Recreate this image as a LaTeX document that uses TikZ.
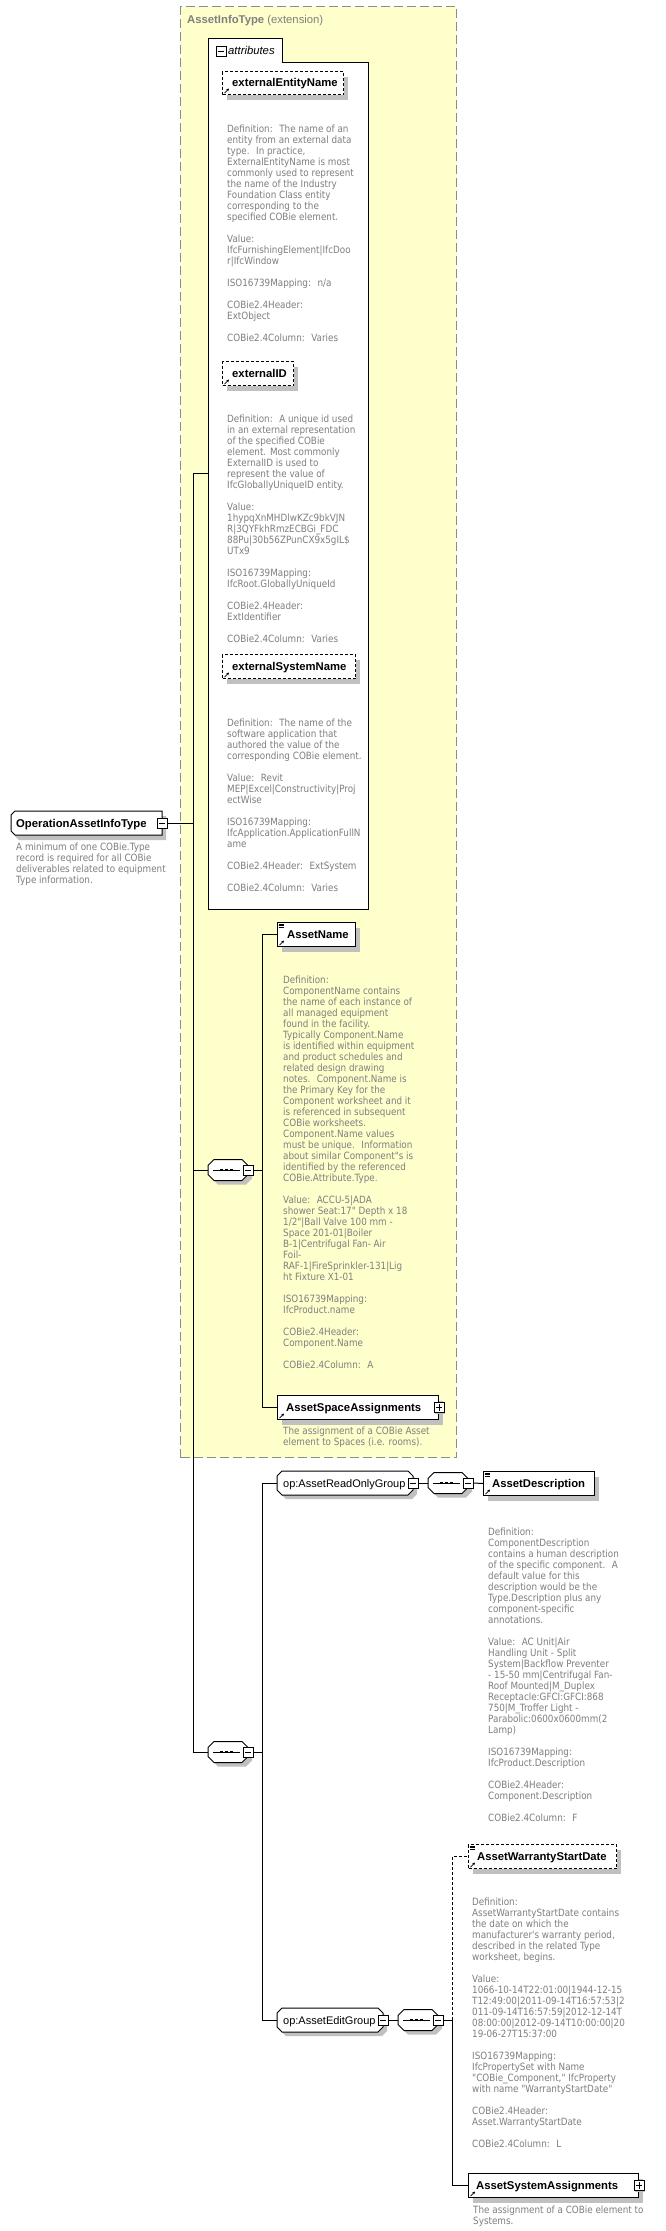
\documentclass[tikz,border=0pt]{standalone}
\usepackage{fontspec}
\setmainfont{Liberation Sans}
\newfontfamily\mydescfam[FakeStretch=0.88,Ligatures=TeXOff]{DejaVu Sans}
\usetikzlibrary{shadows,arrows.meta}
\definecolor{yellowbg}{HTML}{FFFFCC}
\definecolor{dashgray}{HTML}{8C8C8C}
\definecolor{descgray}{HTML}{7F7F7F}
\definecolor{shadowgray}{HTML}{C0C0C0}
\definecolor{titlegray}{HTML}{808080}
\newcommand\elnamefont{\fontsize{11.3}{13}\selectfont\bfseries}
\newcommand\grpnamefont{\fontsize{11}{13}\selectfont}
\newcommand\xdescfont{\mydescfam\fontsize{10}{11}\selectfont}
% octagon through the anchors of a ghost node: #1 node, #2 chamfer, #3 dx, #4 dy
\newcommand\octo[4]{([xshift={(#2)+(#3)},yshift={#4}]#1.north west) -- ([xshift={-(#2)+(#3)},yshift={#4}]#1.north east) -- ([xshift={#3},yshift={-(#2)+(#4)}]#1.north east) -- ([xshift={#3},yshift={(#2)+(#4)}]#1.south east) -- ([xshift={-(#2)+(#3)},yshift={#4}]#1.south east) -- ([xshift={(#2)+(#3)},yshift={#4}]#1.south west) -- ([xshift={#3},yshift={(#2)+(#4)}]#1.south west) -- ([xshift={#3},yshift={-(#2)+(#4)}]#1.north west) -- cycle}
% left corners chamfered only
\newcommand\chamL[4]{([xshift={(#2)+(#3)},yshift={#4}]#1.north west) -- ([xshift={#3},yshift={#4}]#1.north east) -- ([xshift={#3},yshift={#4}]#1.south east) -- ([xshift={(#2)+(#3)},yshift={#4}]#1.south west) -- ([xshift={#3},yshift={(#2)+(#4)}]#1.south west) -- ([xshift={#3},yshift={-(#2)+(#4)}]#1.north west) -- cycle}
\newcommand\minusmark[1]{\draw[line width=0.9pt] ([xshift=2.2]#1.west) -- ([xshift=-2.2]#1.east);}
\newcommand\plusmark[1]{\minusmark{#1}\draw[line width=0.9pt] ([yshift=-2.2]#1.north) -- ([yshift=2.2]#1.south);}
\newcommand\arrowicon[1]{\draw[line width=0.7pt,-{Stealth[length=2.8pt,width=2.8pt]}] ([shift={(2.5,2)}]#1.south west) -- ([shift={(7,6.5)}]#1.south west);}
\newcommand\lineicon[1]{\foreach \k in {1.8,3.6,5.4} {\draw[line width=0.6pt] ([shift={(1.5,-\k)}]#1.north west) -- ++(5.5,0);}}
\newcommand\seqmark[1]{\draw[line width=1pt] ([xshift=5]#1.west) -- ([xshift=-8]#1.east);
  \foreach \dx in {-6.5,-1.5,3.5} {\fill ([shift={(\dx-1.4,-1.4)}]#1.center) rectangle ++(2.8,2.8);}}
\tikzset{
  elbox/.style={draw=black, fill=white, line width=1pt, inner sep=0pt, anchor=north west,
    drop shadow={shadow xshift=4pt, shadow yshift=-5pt, fill=shadowgray, opacity=1}},
  optelbox/.style={elbox, dash pattern=on 3pt off 2pt},
  elname/.style={font=\elnamefont, anchor=base west, inner sep=0pt},
  grpname/.style={font=\grpnamefont, anchor=base west, inner sep=0pt},
  desctext/.style={font=\xdescfont, text=descgray, align=left, anchor=north west, inner sep=0pt},
  pmbox/.style={draw=black, fill=white, line width=0.9pt, minimum size=10pt, inner sep=0pt,
    drop shadow={shadow xshift=1.3pt, shadow yshift=-1.3pt, fill=shadowgray, opacity=1}},
  ghost/.style={inner sep=0pt, outer sep=0pt, anchor=north west},
  conn/.style={draw=black, line width=1pt},
  optconn/.style={conn, dash pattern=on 3pt off 2pt},
}
\begin{document}
\begin{tikzpicture}[x=1pt,y=1pt]
\path[use as bounding box, fill=white] (0,0) rectangle (666,-2231);

% ---------- extension box ----------
\node[draw=dashgray, line width=1pt, dash pattern=on 9pt off 4pt, fill=yellowbg, inner sep=0pt,
  anchor=north west, minimum width=276, minimum height=1451] (ext) at (180,-6) {};
\node[anchor=base west, inner sep=0pt, text=titlegray, font=\fontsize{11.3}{13}\selectfont] (extT) at (187,-23) {\textbf{AssetInfoType} (extension)};

% ---------- attributes ----------
\node[ghost, minimum width=160, minimum height=847] (attrbody) at (208,-62) {};
\node[ghost, minimum width=74, minimum height=24] (attrtab) at (208,-38) {};
\node[ghost, minimum width=160, minimum height=871] (attrs) at (208,-38) {};
\draw[fill=white, line width=1pt] (attrtab.north west) -- (attrtab.north east) -- (attrtab.south east) -- (attrbody.north east) -- (attrbody.south east) -- (attrbody.south west) -- cycle;
\node[pmbox] (attrm) at (221,-51) {}; \minusmark{attrm}
\node[anchor=base west, inner sep=0pt, font=\fontsize{11.3}{13}\selectfont\itshape] (attrT) at (228,-54) {attributes};

\node[optelbox, minimum width=121, minimum height=23] (een) at (222,-71) {};
\node[elname] (eenT) at (232,-86.5) {externalEntityName};
\arrowicon{een}
\node[desctext] (eenD) at (227,-124.5) {\strut Definition:~ The name of an\\
entity from an external data\\
type.~ In practice,\\
ExternalEntityName is most\\
commonly used to represent\\
the name of the Industry\\
Foundation Class entity\\
corresponding to the\\
specified COBie element.\\
~\\
Value:\\
IfcFurnishingElement|IfcDoo\\
r|IfcWindow\\
~\\
ISO16739Mapping:~ n/a\\
~\\
COBie2.4Header:\\
ExtObject\\
~\\
COBie2.4Column:~ Varies};

\node[optelbox, minimum width=71, minimum height=24] (eid) at (222,-361) {};
\node[elname] (eidT) at (232,-377) {externalID};
\arrowicon{eid}
\node[desctext] (eidD) at (227,-414.5) {\strut Definition:~ A unique id used\\
in an external representation\\
of the specified COBie\\
element. Most commonly\\
ExternalID is used to\\
represent the value of\\
IfcGloballyUniqueID entity.\\
~\\
Value:\\
1hypqXnMHDlwKZc9bkVJN\\
R|3QYFkhRmzECBGi\_FDC\\
88Pu|30b56ZPunCX9x5gIL\$\\
UTx9\\
~\\
ISO16739Mapping:\\
IfcRoot.GloballyUniqueId\\
~\\
COBie2.4Header:\\
ExtIdentifier\\
~\\
COBie2.4Column:~ Varies};

\node[optelbox, minimum width=133, minimum height=24] (esn) at (222,-654) {};
\node[elname] (esnT) at (232,-670) {externalSystemName};
\arrowicon{esn}
\node[desctext] (esnD) at (227,-718.5) {\strut Definition:~ The name of the\\
software application that\\
authored the value of the\\
corresponding COBie element.\\
~\\
Value:~ Revit\\
MEP|Excel|Constructivity|Proj\\
ectWise\\
~\\
ISO16739Mapping:\\
IfcApplication.ApplicationFullN\\
ame\\
~\\
COBie2.4Header:~ ExtSystem\\
~\\
COBie2.4Column:~ Varies};

% ---------- root element ----------
\node[ghost, minimum width=151, minimum height=24] (oait) at (11,-811) {};
\fill[shadowgray] \chamL{oait}{4}{4}{-5};
\draw[fill=white, line width=1pt] \chamL{oait}{4}{0}{0};
\node[elname] (oaitT) at (16,-827) {OperationAssetInfoType};
\node[pmbox] (oaitm) at (oait.east) {}; \minusmark{oaitm}
\node[desctext] (oaitD) at (16,-842.5) {\strut A minimum of one COBie.Type\\
record is required for all COBie\\
deliverables related to equipment\\
Type information.};

% ---------- base sequence ----------
\node[ghost, minimum width=40, minimum height=21] (seq1) at (208,-1159.5) {};
\fill[shadowgray] \octo{seq1}{6}{4}{-4};
\draw[fill=white, line width=1pt] \octo{seq1}{6}{0}{0};
\seqmark{seq1}
\node[pmbox] (seq1m) at (seq1.east) {}; \minusmark{seq1m}

\node[elbox, minimum width=78, minimum height=24] (an) at (277,-922) {};
\lineicon{an}\arrowicon{an}
\node[elname] (anT) at (287,-938) {AssetName};
\node[desctext] (anD) at (283,-975.5) {\strut Definition:\\
ComponentName contains\\
the name of each instance of\\
all managed equipment\\
found in the facility.\\
Typically Component.Name\\
is identified within equipment\\
and product schedules and\\
related design drawing\\
notes.~ Component.Name is\\
the Primary Key for the\\
Component worksheet and it\\
is referenced in subsequent\\
COBie worksheets.\\
Component.Name values\\
must be unique.~ Information\\
about similar Component"s is\\
identified by the referenced\\
COBie.Attribute.Type.\\
~\\
Value:~ ACCU-5|ADA\\
shower Seat:17" Depth x 18\\
1/2"|Ball Valve 100 mm -\\
Space 201-01|Boiler\\
B-1|Centrifugal Fan- Air\\
Foil-\\
RAF-1|FireSprinkler-131|Lig\\
ht Fixture X1-01\\
~\\
ISO16739Mapping:\\
IfcProduct.name\\
~\\
COBie2.4Header:\\
Component.Name\\
~\\
COBie2.4Column:~ A};

\node[elbox, minimum width=161, minimum height=24] (asa) at (277,-1395) {};
\arrowicon{asa}
\node[elname] (asaT) at (286,-1411) {AssetSpaceAssignments};
\node[pmbox] (asap) at (asa.east) {}; \plusmark{asap}
\node[desctext] (asaD) at (283,-1426.5) {\strut The assignment of a COBie Asset\\
element to Spaces (i.e. rooms).};

% ---------- extension sequence ----------
\node[ghost, minimum width=40, minimum height=21] (seq2) at (208,-1741.5) {};
\fill[shadowgray] \octo{seq2}{6}{4}{-4};
\draw[fill=white, line width=1pt] \octo{seq2}{6}{0}{0};
\seqmark{seq2}
\node[pmbox] (seq2m) at (seq2.east) {}; \minusmark{seq2m}

% read-only group
\node[ghost, minimum width=136, minimum height=24] (gro) at (277,-1471) {};
\fill[shadowgray] \octo{gro}{5}{4}{-4};
\draw[fill=white, line width=1pt] \octo{gro}{5}{0}{0};
\node[grpname] (groT) at (283,-1487) {op:AssetReadOnlyGroup};
\node[pmbox] (grom) at (gro.east) {}; \minusmark{grom}

\node[ghost, minimum width=40, minimum height=21] (seq3) at (428,-1472.5) {};
\fill[shadowgray] \octo{seq3}{6}{4}{-4};
\draw[fill=white, line width=1pt] \octo{seq3}{6}{0}{0};
\seqmark{seq3}
\node[pmbox] (seq3m) at (seq3.east) {}; \minusmark{seq3m}

\node[elbox, minimum width=111, minimum height=24] (ad) at (483,-1471) {};
\lineicon{ad}\arrowicon{ad}
\node[elname] (adT) at (492,-1487) {AssetDescription};
\node[desctext] (adD) at (488,-1527.5) {\strut Definition:\\
ComponentDescription\\
contains a human description\\
of the specific component.~ A\\
default value for this\\
description would be the\\
Type.Description plus any\\
component-specific\\
annotations.\\
~\\
Value:~ AC Unit|Air\\
Handling Unit - Split\\
System|Backflow Preventer\\
- 15-50 mm|Centrifugal Fan-\\
Roof Mounted|M\_Duplex\\
Receptacle:GFCI:GFCI:868\\
750|M\_Troffer Light -\\
Parabolic:0600x0600mm(2\\
Lamp)\\
~\\
ISO16739Mapping:\\
IfcProduct.Description\\
~\\
COBie2.4Header:\\
Component.Description\\
~\\
COBie2.4Column:~ F};

% edit group
\node[ghost, minimum width=106, minimum height=24] (ged) at (277,-2008) {};
\fill[shadowgray] \octo{ged}{5}{4}{-4};
\draw[fill=white, line width=1pt] \octo{ged}{5}{0}{0};
\node[grpname] (gedT) at (283,-2024) {op:AssetEditGroup};
\node[pmbox] (gedm) at (ged.east) {}; \minusmark{gedm}

\node[ghost, minimum width=40, minimum height=21] (seq4) at (398,-2009.5) {};
\fill[shadowgray] \octo{seq4}{6}{4}{-4};
\draw[fill=white, line width=1pt] \octo{seq4}{6}{0}{0};
\seqmark{seq4}
\node[pmbox] (seq4m) at (seq4.east) {}; \minusmark{seq4m}

\node[optelbox, minimum width=148, minimum height=24] (awsd) at (468,-1844) {};
\lineicon{awsd}\arrowicon{awsd}
\node[elname] (awsdT) at (477,-1860) {AssetWarrantyStartDate};
\node[desctext] (awsdD) at (472,-1897.5) {\strut Definition:\\
AssetWarrantyStartDate contains\\
the date on which the\\
manufacturer's warranty period,\\
described in the related Type\\
worksheet, begins.\\
~\\
Value:\\
1066-10-14T22:01:00|1944-12-15\\
T12:49:00|2011-09-14T16:57:53|2\\
011-09-14T16:57:59|2012-12-14T\\
08:00:00|2012-09-14T10:00:00|20\\
19-06-27T15:37:00\\
~\\
ISO16739Mapping:\\
IfcPropertySet with Name\\
"COBie\_Component," IfcProperty\\
with name "WarrantyStartDate"\\
~\\
COBie2.4Header:\\
Asset.WarrantyStartDate\\
~\\
COBie2.4Column:~ L};

\node[elbox, minimum width=170, minimum height=24] (asys) at (468,-2173) {};
\arrowicon{asys}
\node[elname] (asysT) at (476,-2189) {AssetSystemAssignments};
\node[pmbox] (asysp) at (asys.east) {}; \plusmark{asysp}
\node[desctext] (asysD) at (473,-2205.5) {\strut The assignment of a COBie element to\\
Systems.};

% ---------- connectors ----------
\coordinate (xc) at (193,0);
\coordinate (xa) at (262,0);
\coordinate (xb) at (452,0);
\draw[conn] (oaitm.east) -- (oaitm.east -| xc);
\draw[conn] (attrs.west) -- (attrs.west -| xc) -- (seq2.west -| xc) -- (seq2.west);
\draw[conn] (seq1.west -| xc) -- (seq1.west);
\draw[conn] (seq1m.east) -- (seq1m.east -| xa);
\draw[conn] (an.west) -- (an.west -| xa) -- (asa.west -| xa) -- (asa.west);
\draw[conn] (seq2m.east) -- (seq2m.east -| xa);
\draw[conn] (gro.west) -- (gro.west -| xa) -- (ged.west -| xa) -- (ged.west);
\draw[conn] (grom.east) -- (seq3.west);
\draw[conn] (seq3m.east) -- (ad.west);
\draw[conn] (gedm.east) -- (seq4.west);
\draw[conn] (seq4m.east) -- (seq4m.east -| xb);
\draw[optconn] (seq4m.east -| xb) -- (awsd.west -| xb) -- (awsd.west);
\draw[conn] (seq4m.east -| xb) -- (asys.west -| xb) -- (asys.west);
\end{tikzpicture}
\end{document}
